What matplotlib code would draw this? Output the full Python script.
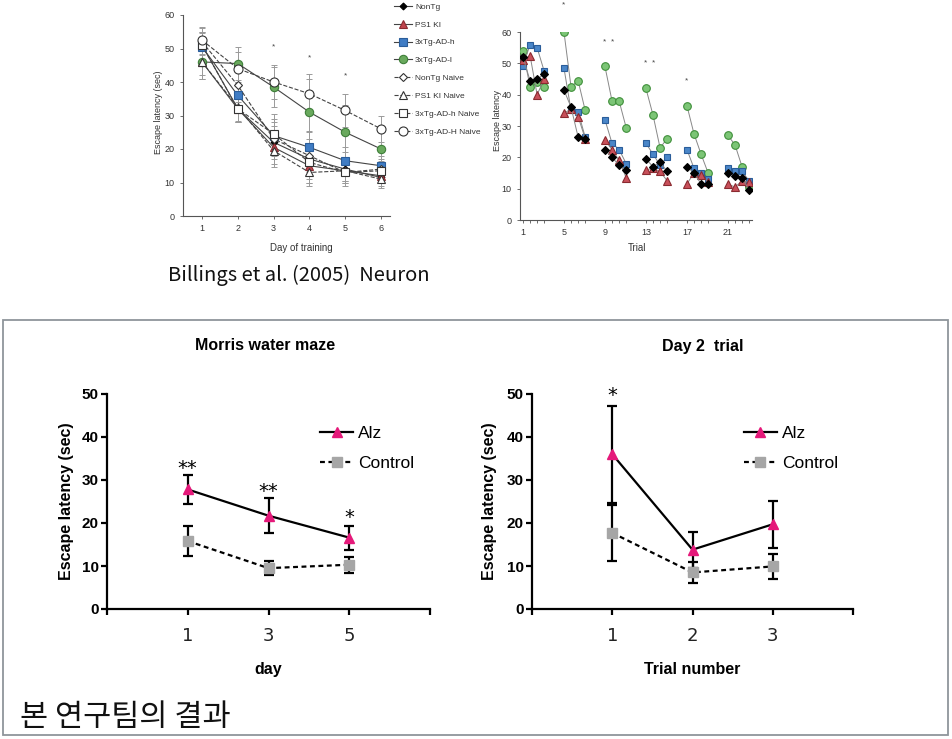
import matplotlib
matplotlib.use('Agg')
import matplotlib.pyplot as plt
from matplotlib.patches import Rectangle

plt.rcParams['font.family'] = ['Liberation Sans', 'DejaVu Sans']

# ---------------- data: top-left (Billings et al. 2005) ----------------
tl_days = [1, 2, 3, 4, 5, 6]
tl_names = ["NonTg", "PS1 KI", "3xTg-AD-h", "3xTg-AD-l",
            "NonTg Naive", "PS1 KI Naive", "3xTg-AD-h Naive", "3xTg-AD-H Naive"]
tl_nontg = [51, 32, 22, 17, 14, 11.5]
tl_ps1 = [46, 32, 20.5, 15, 13.5, 12]
tl_adh = [50.5, 36, 24, 20.5, 16.5, 15]
tl_adl = [46, 45.5, 38.5, 31, 25, 20]
tl_nontg_n = [52, 39, 23, 18, 13, 14]
tl_ps1_n = [46, 32.5, 19.5, 13, 13.5, 11]
tl_adh_n = [51, 32, 24.5, 16, 13, 13.5]
tl_adH_n = [52.5, 44, 40, 36.5, 31.5, 26]
tl_err_nontg = [4, 4, 5, 8, 5, 3]
tl_err_ps1 = [4, 4, 5, 5, 3, 2]
tl_err_adh = [4, 4, 5, 5, 4, 3]
tl_err_adl = [5, 5, 6, 10, 8, 7]
tl_err_nontg_n = [4, 5, 5, 5, 3, 3]
tl_err_ps1_n = [5, 4, 5, 3, 3, 2]
tl_err_adh_n = [4, 4, 6, 5, 3, 3]
tl_err_adH_n = [4, 5, 5, 6, 5, 4]
tl_star_days = [3, 4, 5]
tl_star_y = [50.5, 47.3, 41.8]

# ---------------- data: top-right (trials) ----------------
tr_trials = list(range(1, 25))
tr_tick_trials = [1, 5, 9, 13, 17, 21]
tr_nontg = [52, 44.5, 45, 46.5, 41.5, 36, 26.5, 26, 22.5, 20, 17.5, 16,
            19.5, 17, 18.5, 15.5, 17, 15, 11.5, 11.5, 15, 14, 13.5, 9.5]
tr_ps1 = [51, 52.5, 40, 45, 34, 35.5, 33, 26, 25.5, 22.5, 19, 13.5,
          16, 16.5, 15.5, 12.5, 11.5, 15, 14.5, 12, 11.5, 10.5, 12.5, 12]
tr_adh = [49, 56, 55, 47.5, 48.5, 35, 34.5, 26.5, 32, 24.5, 22.5, 18,
          24.5, 21, 17.5, 20, 22.5, 16.5, 15, 13, 16.5, 15.5, 15.5, 12.5]
tr_adl = [54, 42.5, 44, 42.5, 60, 42.5, 44.5, 35, 49, 38, 38, 29.5,
          42, 33.5, 23, 26, 36.5, 27.5, 21, 15, 27, 24, 17, 10.5]
tr_star_trials = [5, 9, 10, 13, 14, 17]
tr_star_y = [68.8, 56.7, 56.7, 50, 50, 44.5]

# ---------------- data: bottom panels (our results) ----------------
mw_days = [1, 3, 5]
mw_alz = [27.8, 21.7, 16.6]
mw_alz_err = [3.4, 4.0, 2.8]
mw_ctl = [15.8, 9.5, 10.3]
mw_ctl_err = [3.5, 1.7, 1.9]
mw_stars = ["**", "**", "*"]
mw_star_y = [33.9, 28.4, 22.4]

d2_trials = [1, 2, 3]
d2_alz = [36.0, 13.8, 19.7]
d2_alz_err = [11.3, 4.2, 5.5]
d2_ctl = [17.7, 8.5, 9.9]
d2_ctl_err = [6.6, 2.4, 3.0]
d2_stars = ["*"]
d2_star_x = [1]
d2_star_y = [50.8]

W, H = 952, 739
fig = plt.figure(figsize=(W / 100, H / 100), dpi=100)


def rect(l, r, t, b):
    return [l / W, 1 - b / H, (r - l) / W, (b - t) / H]


TXT = '#333333'

# ================= top-left =================
ax1 = fig.add_axes(rect(183, 390, 15, 216))
tl_vals = [tl_nontg, tl_ps1, tl_adh, tl_adl, tl_nontg_n, tl_ps1_n, tl_adh_n, tl_adH_n]
tl_errs = [tl_err_nontg, tl_err_ps1, tl_err_adh, tl_err_adl,
           tl_err_nontg_n, tl_err_ps1_n, tl_err_adh_n, tl_err_adH_n]
tl_style = [
    dict(marker='D', ms=3.5, mfc='black', mec='black', ls='-'),
    dict(marker='^', ms=5.5, mfc='#c0454e', mec='#8a2a30', ls='-'),
    dict(marker='s', ms=5.5, mfc='#3f7cc4', mec='#2a5d9a', ls='-'),
    dict(marker='o', ms=6, mfc='#69a95d', mec='#3f7f3a', ls='-'),
    dict(marker='D', ms=4, mfc='white', mec='#333333', ls='--'),
    dict(marker='^', ms=5.5, mfc='white', mec='#333333', ls='--'),
    dict(marker='s', ms=5.5, mfc='white', mec='#333333', ls='--'),
    dict(marker='o', ms=6.5, mfc='white', mec='#333333', ls='--'),
]
for vals, errs, st, name in zip(tl_vals, tl_errs, tl_style, tl_names):
    ax1.errorbar(tl_days, vals, yerr=errs, fmt='none', ecolor='#9a9a9a',
                 elinewidth=0.7, capsize=2, capthick=0.7, zorder=1)
    ax1.plot(tl_days, vals, color='#444444', lw=0.8, label=name,
             markeredgewidth=0.8, zorder=3, **st)
for d, y in zip(tl_star_days, tl_star_y):
    ax1.text(d, y, '*', ha='center', va='center', fontsize=6, color='#444444')
ax1.set_xlim(0.47, 6.25)
ax1.set_ylim(0, 60)
ax1.set_xticks(tl_days)
ax1.set_yticks(range(0, 61, 10))
for s in ['top', 'right']:
    ax1.spines[s].set_visible(False)
for s in ['left', 'bottom']:
    ax1.spines[s].set_color('#555555')
    ax1.spines[s].set_linewidth(0.8)
ax1.tick_params(labelsize=6.5, colors='#555555', labelcolor=TXT, length=2.5, width=0.6)
ax1.set_xlabel('Day of training', fontsize=7, color=TXT, va='center')
ax1.xaxis.set_label_coords(0.57, -0.16)
ax1.set_ylabel('Escape latency (sec)', fontsize=6.5, color=TXT, va='center')
ax1.yaxis.set_label_coords(-0.12, 0.517)
ax1.legend(loc='upper left', bbox_to_anchor=(1.02, 1.06), frameon=False,
           fontsize=6, handlelength=2.2, handletextpad=0.3, labelspacing=1.2,
           borderpad=0, borderaxespad=0, labelcolor=TXT)

# ================= top-right =================
ax2 = fig.add_axes(rect(520, 752, 32, 220))


def tr_pos(k):
    return 1 + 4 * ((k - 1) // 4) + 0.69 * ((k - 1) % 4)


tr_x = [tr_pos(k) for k in tr_trials]
tr_series = [
    (tr_adl, dict(marker='o', ms=5.5, mfc='#7cc576', mec='#3f8f3a')),
    (tr_adh, dict(marker='s', ms=5, mfc='#4a86c8', mec='#2a5d9a')),
    (tr_ps1, dict(marker='^', ms=5.5, mfc='#c8505a', mec='#8a2a30')),
    (tr_nontg, dict(marker='D', ms=3.8, mfc='black', mec='black')),
]
for vals, st in tr_series:
    for g in range(6):
        xs = tr_x[4 * g:4 * g + 4]
        ys = vals[4 * g:4 * g + 4]
        ax2.plot(xs, ys, color='#888888', lw=0.7, ls='-', markeredgewidth=0.8,
                 zorder=3, **st)
for k, y in zip(tr_star_trials, tr_star_y):
    ax2.text(tr_pos(k), y, '*', ha='center', va='center', fontsize=6,
             color='#444444', clip_on=False)
ax2.set_xlim(0.71, 23.35)
ax2.set_ylim(0, 60)
ax2.set_xticks([tr_pos(k) for k in tr_tick_trials])
ax2.set_xticklabels([str(k) for k in tr_tick_trials])
ax2.set_xticks(tr_x, minor=True)
ax2.set_yticks(range(0, 61, 10))
for s in ['top', 'right']:
    ax2.spines[s].set_visible(False)
for s in ['left', 'bottom']:
    ax2.spines[s].set_color('#555555')
    ax2.spines[s].set_linewidth(0.8)
ax2.tick_params(labelsize=6.5, colors='#555555', labelcolor=TXT, length=2.5, width=0.6)
ax2.tick_params(which='minor', length=2, width=0.6, colors='#555555')
ax2.set_xlabel('Trial', fontsize=7, color=TXT, va='center')
ax2.xaxis.set_label_coords(0.504, -0.149)
ax2.set_ylabel('Escape latency', fontsize=6.5, color=TXT, va='center')
ax2.yaxis.set_label_coords(-0.099, 0.53)

fig.text(168 / W, 1 - 275 / H, 'Billings et al. (2005)  Neuron', fontsize=14.5,
         ha='left', va='center', color='#111111',
         family=['Noto Sans CJK KR', 'DejaVu Sans'])

# ================= bottom panels =================
PINK = '#e5197a'
GRAY = '#a6a6a6'


def bottom_panel(ax, xs, alz, alz_e, ctl, ctl_e, xlim, ticks, labels):
    ax.errorbar(xs, alz, yerr=alz_e, fmt='none', ecolor='black', elinewidth=1.6,
                capsize=3.5, capthick=1.6, zorder=2)
    ax.errorbar(xs, ctl, yerr=ctl_e, fmt='none', ecolor='black', elinewidth=1.6,
                capsize=3.5, capthick=1.6, zorder=2)
    ax.plot(xs, alz, color='black', lw=1.6, ls='-', marker='^', ms=7,
            mfc=PINK, mec=PINK, label='Alz', zorder=4)
    ax.plot(xs, ctl, color='black', lw=1.6, ls=(0, (2.2, 1.6)), marker='s', ms=6.5,
            mfc=GRAY, mec=GRAY, label='Control', zorder=3)
    ax.set_xlim(*xlim)
    ax.set_ylim(0, 50)
    ax.set_yticks(range(0, 51, 10))
    ax.set_xticks(ticks)
    ax.set_xticklabels(labels, family='DejaVu Sans', fontsize=13, color='#222222')
    for lab in ax.get_yticklabels():
        lab.set_fontweight('bold')
    ax.tick_params(axis='y', labelsize=11, length=4.5, width=1.6, pad=1.5)
    ax.tick_params(axis='x', length=4.5, width=1.6, pad=8.5)
    for s in ['top', 'right']:
        ax.spines[s].set_visible(False)
    for s in ['left', 'bottom']:
        ax.spines[s].set_linewidth(1.6)
    ax.set_ylabel('Escape latency (sec)', fontsize=11.5, fontweight='bold', va='center')
    leg = ax.legend(loc='upper left', bbox_to_anchor=(0.66, 0.85), frameon=False,
                    fontsize=12.5, handlelength=1.9, handletextpad=0.3,
                    labelspacing=0.85, borderpad=0, borderaxespad=0, numpoints=1)
    return leg


ax3 = fig.add_axes(rect(107, 430, 394, 609))
bottom_panel(ax3, mw_days, mw_alz, mw_alz_err, mw_ctl, mw_ctl_err,
             (-1, 7), [-1, 1, 3, 5, 7], ['', '1', '3', '5', ''])
ax3.set_xlabel('day', fontsize=11.5, fontweight='bold', va='center')
ax3.xaxis.set_label_coords(0.5, -0.28)
ax3.yaxis.set_label_coords(-0.124, 0.5)
for x, y, s in zip(mw_days, mw_star_y, mw_stars):
    ax3.annotate(s, xy=(x, y), xytext=(0, -7.5), textcoords='offset points',
                 ha='center', va='baseline', fontsize=14, family='DejaVu Sans')

ax4 = fig.add_axes(rect(532, 853, 394, 609))
bottom_panel(ax4, d2_trials, d2_alz, d2_alz_err, d2_ctl, d2_ctl_err,
             (0, 4), [0, 1, 2, 3, 4], ['', '1', '2', '3', ''])
ax4.set_xlabel('Trial number', fontsize=11.5, fontweight='bold', va='center')
ax4.xaxis.set_label_coords(0.5, -0.28)
ax4.yaxis.set_label_coords(-0.131, 0.5)
for x, y, s in zip(d2_star_x, d2_star_y, d2_stars):
    ax4.annotate(s, xy=(x, y), xytext=(0, -7.5), textcoords='offset points',
                 ha='center', va='baseline', fontsize=14, family='DejaVu Sans',
                 annotation_clip=False)

fig.text(265 / W, 1 - 346 / H, 'Morris water maze', fontsize=11.5, fontweight='bold',
         ha='center', va='center')
fig.text(703 / W, 1 - 346 / H, 'Day 2  trial', fontsize=11.5, fontweight='bold',
         ha='center', va='center')

fig.text(20 / W, 1 - 718 / H, '본 연구팀의 결과', fontsize=22, ha='left', va='center',
         family=['Noto Sans CJK KR', 'DejaVu Sans'], color='#111111')

fig.patches.append(Rectangle((3 / W, 1 - 735 / H), (948 - 3) / W, (735 - 320) / H,
                             transform=fig.transFigure, fill=False,
                             edgecolor='#8f959b', lw=1.3))

fig.savefig('out.png', dpi=100)
